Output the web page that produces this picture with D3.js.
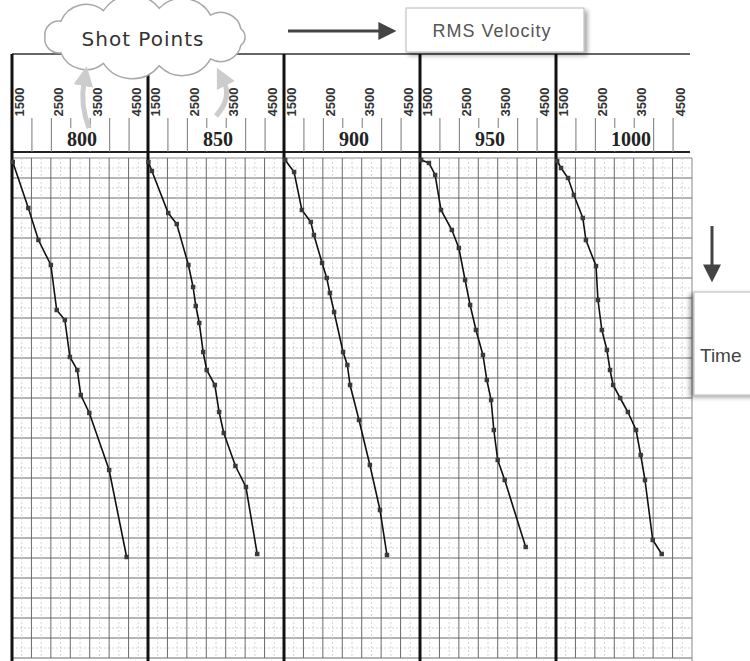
<!DOCTYPE html>
<html>
<head>
<meta charset="utf-8">
<script src="https://cdn.jsdelivr.net/npm/d3@7"></script>
<style>
  body { margin: 0; background: #fff; }
  svg { display: block; }
</style>
</head>
<body>
<figure id="graph" style="margin:0"></figure>
<script>
// shot points (one panel each) and velocity tick labels
const shotPoints = [800, 850, 900, 950, 1000];
const velocityTicks = [1500, 2500, 3500, 4500];

// picked RMS velocity (m/s) and two-way time (ms) per shot point
const sp800Vel  = [1520, 1920, 2180, 2500, 2650, 2860, 2990, 3180, 3270, 3490, 4000, 4450];
const sp800Time = [40, 500, 820, 1070, 1520, 1620, 1990, 2120, 2370, 2550, 3120, 3990];
const sp850Vel  = [1510, 1600, 2020, 2240, 2540, 2660, 2730, 2820, 2920, 3010, 3220, 3330, 3450, 3750, 4020, 4310];
const sp850Time = [40, 130, 550, 660, 1070, 1290, 1480, 1650, 1940, 2120, 2270, 2540, 2750, 3080, 3290, 3960];
const sp900Vel  = [1530, 1760, 1960, 2190, 2270, 2480, 2600, 2680, 2790, 3020, 3130, 3200, 3430, 3710, 3970, 4150];
const sp900Time = [20, 140, 520, 640, 770, 1050, 1200, 1350, 1540, 1940, 2070, 2270, 2620, 3070, 3520, 3970];
const sp950Vel  = [1530, 1730, 1890, 2040, 2320, 2500, 2660, 2790, 2940, 3120, 3220, 3330, 3400, 3500, 3680, 4220];
const sp950Time = [20, 50, 170, 520, 720, 900, 1220, 1470, 1720, 1970, 2220, 2420, 2720, 3020, 3220, 3890];
const sp1000Vel  = [1530, 1630, 1810, 1960, 2190, 2270, 2530, 2580, 2680, 2810, 2890, 2970, 3150, 3350, 3560, 3680, 3790, 3990, 4220];
const sp1000Time = [30, 100, 200, 370, 600, 820, 1080, 1420, 1720, 1920, 2120, 2270, 2400, 2540, 2720, 2970, 3220, 3820, 3960];

const picks = [
  [sp800Vel, sp800Time], [sp850Vel, sp850Time], [sp900Vel, sp900Time],
  [sp950Vel, sp950Time], [sp1000Vel, sp1000Time]
];

const width = 750, height = 661;
const left = 12, right = 692;
const headTop = 54, headBottom = 152, plotTop = 158, plotBottom = 658;

const svg = d3.select("figure#graph").append("svg")
  .attr("width", width).attr("height", height)
  .style("font-family", "'Liberation Sans', Arial, sans-serif");

const defs = svg.append("defs");
const shadow = (id, dx, dy) => {
  const f = defs.append("filter").attr("id", id)
    .attr("x", "-30%").attr("y", "-30%").attr("width", "160%").attr("height", "160%");
  f.append("feDropShadow").attr("dx", dx).attr("dy", dy)
    .attr("stdDeviation", 2).attr("flood-color", "#000").attr("flood-opacity", 0.35);
};
shadow("shR", 3, 3);
shadow("shL", -4, 2);
const marker = (id, color, size) => {
  defs.append("marker").attr("id", id)
    .attr("viewBox", "0 -5 10 10").attr("refX", 2).attr("refY", 0)
    .attr("markerWidth", size).attr("markerHeight", size)
    .attr("markerUnits", "userSpaceOnUse").attr("orient", "auto")
    .append("path").attr("d", "M0,-5L10,0L0,5Z").attr("fill", color);
};
marker("headDark", "#444", 18);
marker("headGrey", "#cccccc", 20);

// scales
const band = d3.scaleBand().domain(shotPoints).range([left, right]).padding(0);
const pw = band.bandwidth();
const x = d3.scaleLinear().domain([1500, 5000]).range([0, pw]);
const y = d3.scaleLinear().domain([0, 5000]).range([plotTop, plotBottom]);

// horizontal grid across all panels
const hMinor = d3.range(100, 5000, 200);
const hMajor = d3.range(200, 5001, 200);
svg.append("g").selectAll("line").data(hMinor).join("line")
  .attr("x1", left).attr("x2", right).attr("y1", d => y(d)).attr("y2", d => y(d))
  .attr("stroke", "#d4d4d4").attr("stroke-dasharray", "2,2");
svg.append("g").selectAll("line").data(hMajor).join("line")
  .attr("x1", left).attr("x2", right).attr("y1", d => y(d)).attr("y2", d => y(d))
  .attr("stroke", "#6a6a6a").attr("stroke-width", 1);
svg.append("line").attr("x1", left).attr("x2", right)
  .attr("y1", plotTop).attr("y2", plotTop).attr("stroke", "#888");

// header frame
svg.append("line").attr("x1", left).attr("x2", right - 2)
  .attr("y1", headTop).attr("y2", headTop).attr("stroke", "#333").attr("stroke-width", 1.5);
svg.append("line").attr("x1", left).attr("x2", right - 2)
  .attr("y1", headBottom).attr("y2", headBottom).attr("stroke", "#222").attr("stroke-width", 2);

shotPoints.forEach((sp, i) => {
  const g = svg.append("g").attr("transform", `translate(${band(sp)},0)`);

  // vertical grid in the plot
  g.append("g").selectAll("line").data(d3.range(1750, 5000, 500)).join("line")
    .attr("x1", d => x(d)).attr("x2", d => x(d)).attr("y1", plotTop).attr("y2", plotBottom)
    .attr("stroke", "#d4d4d4").attr("stroke-dasharray", "2,2");
  g.append("g").selectAll("line").data(d3.range(2000, 5000, 500)).join("line")
    .attr("x1", d => x(d)).attr("x2", d => x(d)).attr("y1", plotTop).attr("y2", plotBottom)
    .attr("stroke", "#6a6a6a");

  // velocity ticks in the header
  g.append("g").attr("transform", `translate(0,${headBottom})`)
    .call(d3.axisTop(x).tickValues(d3.range(2000, 5000, 500)).tickSize(34).tickFormat(""))
    .call(a => a.select(".domain").remove())
    .selectAll("line").attr("stroke", "#777");

  g.selectAll("text.vel").data(velocityTicks).join("text").attr("class", "vel")
    .attr("transform", d => `translate(${x(d) + 7.5},102) rotate(-90)`)
    .attr("text-anchor", "middle").attr("dy", "0.35em")
    .attr("font-size", 13).attr("font-weight", "bold").attr("fill", "#333")
    .text(d => d);

  // shot point label on a white patch
  const patch = g.append("rect").attr("x", 53).attr("y", 128).attr("height", 23)
    .attr("fill", "#fff");
  const lbl = g.append("text").attr("x", 55).attr("y", 146)
    .attr("font-family", "'Liberation Serif', serif").attr("font-weight", "bold")
    .attr("font-size", 20).attr("fill", "#222").text(sp);
  patch.attr("width", lbl.node().getComputedTextLength() + 4);

  // panel boundary
  g.append("line").attr("x1", 0).attr("x2", 0).attr("y1", headTop).attr("y2", height)
    .attr("stroke", "#111").attr("stroke-width", 3);

  // velocity picks
  const [vel, time] = picks[i];
  const pts = vel.map((v, k) => [v, time[k]]);
  g.append("path").datum(pts)
    .attr("d", d3.line().x(d => x(d[0])).y(d => y(d[1])))
    .attr("fill", "none").attr("stroke", "#111").attr("stroke-width", 1.6);
  g.append("g").selectAll("path").data(pts).join("path")
    .attr("transform", d => `translate(${x(d[0])},${y(d[1])})`)
    .attr("d", d3.symbol(d3.symbolSquare, 20))
    .attr("fill", "#3a3a3a");
});

// right edge of last panel
svg.append("line").attr("x1", right).attr("x2", right).attr("y1", plotTop).attr("y2", height)
  .attr("stroke", "#888");

// "Shot Points" cloud
const cx = 145, cy = 37, rx = 100, ry = 29, nb = 11;
let cloud = "";
for (let k = 0; k <= nb; k++) {
  const a = Math.PI + 2 * Math.PI * k / nb;
  const px = cx + rx * Math.cos(a), py = cy + ry * Math.sin(a);
  if (k === 0) cloud += `M${px},${py}`;
  else {
    const a0 = Math.PI + 2 * Math.PI * (k - 1) / nb;
    const ch = Math.hypot(px - (cx + rx * Math.cos(a0)), py - (cy + ry * Math.sin(a0)));
    cloud += `A${ch * 0.62},${ch * 0.62} 0 0 1 ${px},${py}`;
  }
}
svg.append("path").attr("d", cloud + "Z")
  .attr("fill", "#fff").attr("stroke", "#a8a8a8").attr("stroke-width", 1.5);
svg.append("text").attr("x", 143).attr("y", 46).attr("text-anchor", "middle")
  .attr("font-family", "'DejaVu Sans', sans-serif").attr("font-size", 20)
  .attr("letter-spacing", 1).attr("fill", "#333").text("Shot Points");

// grey arrows from the shot point labels to the cloud
svg.append("path").attr("d", "M89,128 Q80,105 84,82")
  .attr("fill", "none").attr("stroke", "#cccccc").attr("stroke-width", 5)
  .attr("marker-end", "url(#headGrey)");
svg.append("path").attr("d", "M216,116 Q232,98 224,82")
  .attr("fill", "none").attr("stroke", "#cccccc").attr("stroke-width", 5)
  .attr("marker-end", "url(#headGrey)");

// RMS Velocity box and arrow
svg.append("line").attr("x1", 288).attr("x2", 382).attr("y1", 31).attr("y2", 31)
  .attr("stroke", "#444").attr("stroke-width", 3).attr("marker-end", "url(#headDark)");
svg.append("rect").attr("x", 406).attr("y", 8).attr("width", 178).attr("height", 44)
  .attr("fill", "#fff").attr("stroke", "#b8b8b8").attr("filter", "url(#shR)");
svg.append("text").attr("x", 492).attr("y", 37).attr("text-anchor", "middle")
  .attr("font-size", 18).attr("letter-spacing", 1).attr("fill", "#555").text("RMS Velocity");

// Time box and arrow
svg.append("line").attr("x1", 712).attr("x2", 712).attr("y1", 226).attr("y2", 268)
  .attr("stroke", "#444").attr("stroke-width", 3).attr("marker-end", "url(#headDark)");
svg.append("rect").attr("x", 694).attr("y", 292).attr("width", 70).attr("height", 103)
  .attr("fill", "#fff").attr("stroke", "#b8b8b8").attr("filter", "url(#shL)");
svg.append("text").attr("x", 700).attr("y", 362)
  .attr("font-size", 19).attr("fill", "#444").text("Time");
</script>
</body>
</html>
